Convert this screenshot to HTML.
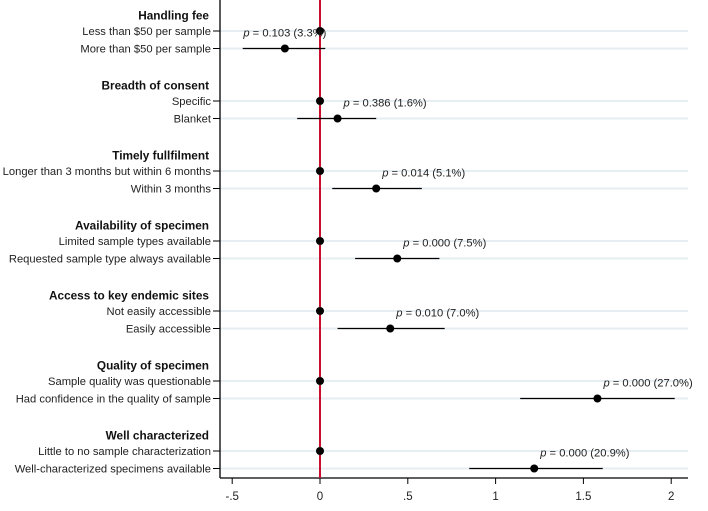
<!DOCTYPE html>
<html><head><meta charset="utf-8"><style>
body{margin:0;background:#fff;}
svg{display:block;font-family:"Liberation Sans",sans-serif;}
</style></head><body>
<svg id="c" width="708" height="511"></svg>
<script>
const groups=["Handling fee","Breadth of consent","Timely fullfilment","Availability of specimen","Access to key endemic sites","Quality of specimen","Well characterized"];
const refLabels=["Less than $50 per sample","Specific","Longer than 3 months but within 6 months","Limited sample types available","Not easily accessible","Sample quality was questionable","Little to no sample characterization"];
const altLabels=["More than $50 per sample","Blanket","Within 3 months","Requested sample type always available","Easily accessible","Had confidence in the quality of sample","Well-characterized specimens available"];
const estimates=[-0.2,0.1,0.32,0.44,0.4,1.58,1.22];
const ciLow=[-0.44,-0.13,0.07,0.2,0.1,1.14,0.85];
const ciHigh=[0.03,0.32,0.58,0.68,0.71,2.02,1.61];
const pLabels=["0.103 (3.3%)","0.386 (1.6%)","0.014 (5.1%)","0.000 (7.5%)","0.010 (7.0%)","0.000 (27.0%)","0.000 (20.9%)"];
const xTicks=[-0.5,0,0.5,1,1.5,2];
const xTickLabels=["-.5","0",".5","1","1.5","2"];

const NS="http://www.w3.org/2000/svg";
const svg=document.getElementById('c');
function el(t,a,p){const e=document.createElementNS(NS,t);for(const k in a)e.setAttribute(k,a[k]);(p||svg).appendChild(e);return e;}
const X=v=>320+v*175.6;
const left=220,right=688,bottom=478;
const groupY=i=>15+i*70;
const rowY=(i,j)=>31+i*70+j*17.5;

for(let i=0;i<groups.length;i++){
  for(let j=0;j<2;j++){
    const y=rowY(i,j);
    const g=el('line',{x1:left,x2:right,y1:y,y2:y,stroke:'#e6eef2','stroke-width':2});
    
    
    el('line',{x1:left-7,x2:left,y1:y,y2:y,stroke:'#000','stroke-width':1});
    const t=el('text',{x:left-9,y:y+4,'text-anchor':'end','font-size':11.2,fill:'#222'});
    t.textContent=j?altLabels[i]:refLabels[i];
    
    
  }
  const h=el('text',{x:left-11,y:groupY(i)+4.5,'text-anchor':'end','font-size':11.8,'font-weight':'bold',fill:'#111'});
  h.textContent=groups[i];
  
  
}
el('line',{x1:left,x2:left,y1:0,y2:bottom,stroke:'#000','stroke-width':1.3});
el('line',{x1:left,x2:right,y1:bottom,y2:bottom,stroke:'#000','stroke-width':1.3});
for(let k=0;k<xTicks.length;k++){
  const x=X(xTicks[k]);
  el('line',{x1:x,x2:x,y1:bottom,y2:bottom+6,stroke:'#000'});
  const t=el('text',{x:x,y:bottom+22,'text-anchor':'middle','font-size':11.5,fill:'#222'});
  t.textContent=xTickLabels[k];
  
  
}
const r=el('line',{x1:X(0),x2:X(0),y1:0,y2:bottom,stroke:'#c8102e','stroke-width':2});


for(let i=0;i<groups.length;i++){
  const y0=rowY(i,0),y1=rowY(i,1);
  const d0=el('circle',{cx:X(0),cy:y0,r:4,fill:'#000'});
  
  
  const ci=el('line',{x1:X(ciLow[i]),x2:X(ciHigh[i]),y1:y1,y2:y1,stroke:'#000','stroke-width':1.2});
  
  
  const d=el('circle',{cx:X(estimates[i]),cy:y1,r:4,fill:'#000'});
  
  
  const mid=i===0;
  const t=el('text',{x:mid?X(estimates[i]):X(estimates[i])+6,y:y1-12,'text-anchor':mid?'middle':'start','font-size':11.2,fill:'#222'});
  const it=el('tspan',{'font-style':'italic'},t);it.textContent='p';
  const rest=el('tspan',{},t);rest.textContent=' = '+pLabels[i];
  
  
}
</script>
</body></html>
